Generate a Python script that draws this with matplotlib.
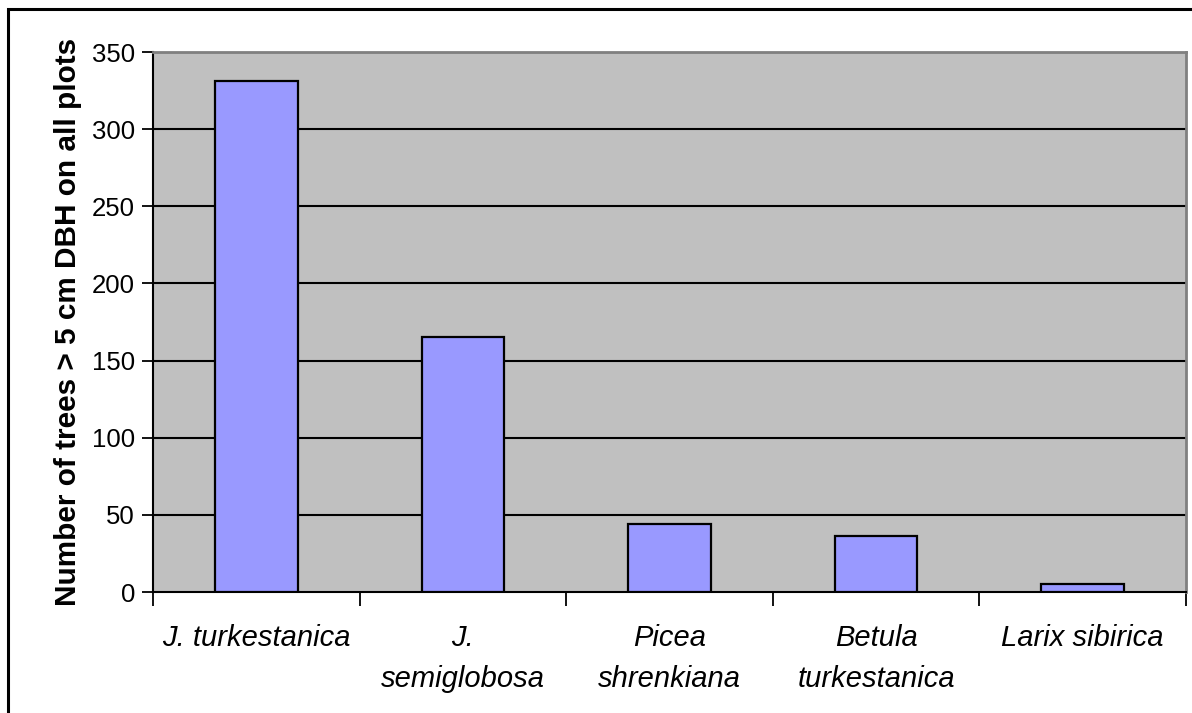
import matplotlib
matplotlib.use("Agg")
import matplotlib.pyplot as plt
from matplotlib.patches import Rectangle
import numpy as np

plt.rcParams['font.family'] = ['Liberation Sans', 'DejaVu Sans']

species = ["J. turkestanica", "J.\nsemiglobosa", "Picea\nshrenkiana",
           "Betula\nturkestanica", "Larix sibirica"]
tree_counts = [331, 165, 44, 36, 5]
y_ticks = [0, 50, 100, 150, 200, 250, 300, 350]

W, H = 1192, 713
fig = plt.figure(figsize=(W / 100, H / 100), dpi=100)

# outer chart frame
fig.patches.append(Rectangle((8 / W, -0.5), 2.0, 1.5 - 9 / H, transform=fig.transFigure,
                             fill=False, edgecolor='black', linewidth=2.2, zorder=0))

left, right, top, bottom = 153, 1186, 52, 592
ax = fig.add_axes([left / W, 1 - bottom / H, (right - left) / W, (bottom - top) / H])
ax.set_facecolor('#C0C0C0')

x = np.arange(len(species))
ax.bar(x, tree_counts, width=0.4, color='#9999FF', edgecolor='black',
       linewidth=1.6, zorder=3)

ax.set_xlim(-0.5, len(species) - 0.5)
ax.set_ylim(0, 350)
ax.set_yticks(y_ticks)
ax.set_yticklabels([str(v) for v in y_ticks], fontsize=18.5)
for v in y_ticks[1:]:
    ax.axhline(v, color='black', linewidth=1.5, zorder=2)

# category labels centred, ticks on category boundaries
ax.set_xticks(x)
ax.set_xticklabels(species, fontsize=21, style='italic', linespacing=1.58,
                   va='top')
ax.tick_params(axis='x', which='major', length=0, pad=23)
ax.set_xticks(np.arange(-0.5, len(species), 1.0), minor=True)
ax.tick_params(axis='x', which='minor', length=10, width=1.3, direction='out')
ax.tick_params(axis='y', length=8, width=1.3, direction='out', pad=5)

for s in ['top', 'right']:
    ax.spines[s].set_color('#808080')
    ax.spines[s].set_linewidth(2)
ax.spines['left'].set_linewidth(1.5)
ax.spines['bottom'].set_linewidth(1.5)

ax.set_ylabel("Number of trees > 5 cm DBH on all plots", fontsize=21.4,
              fontweight='bold', labelpad=7)

fig.savefig("out.png", dpi=100)
